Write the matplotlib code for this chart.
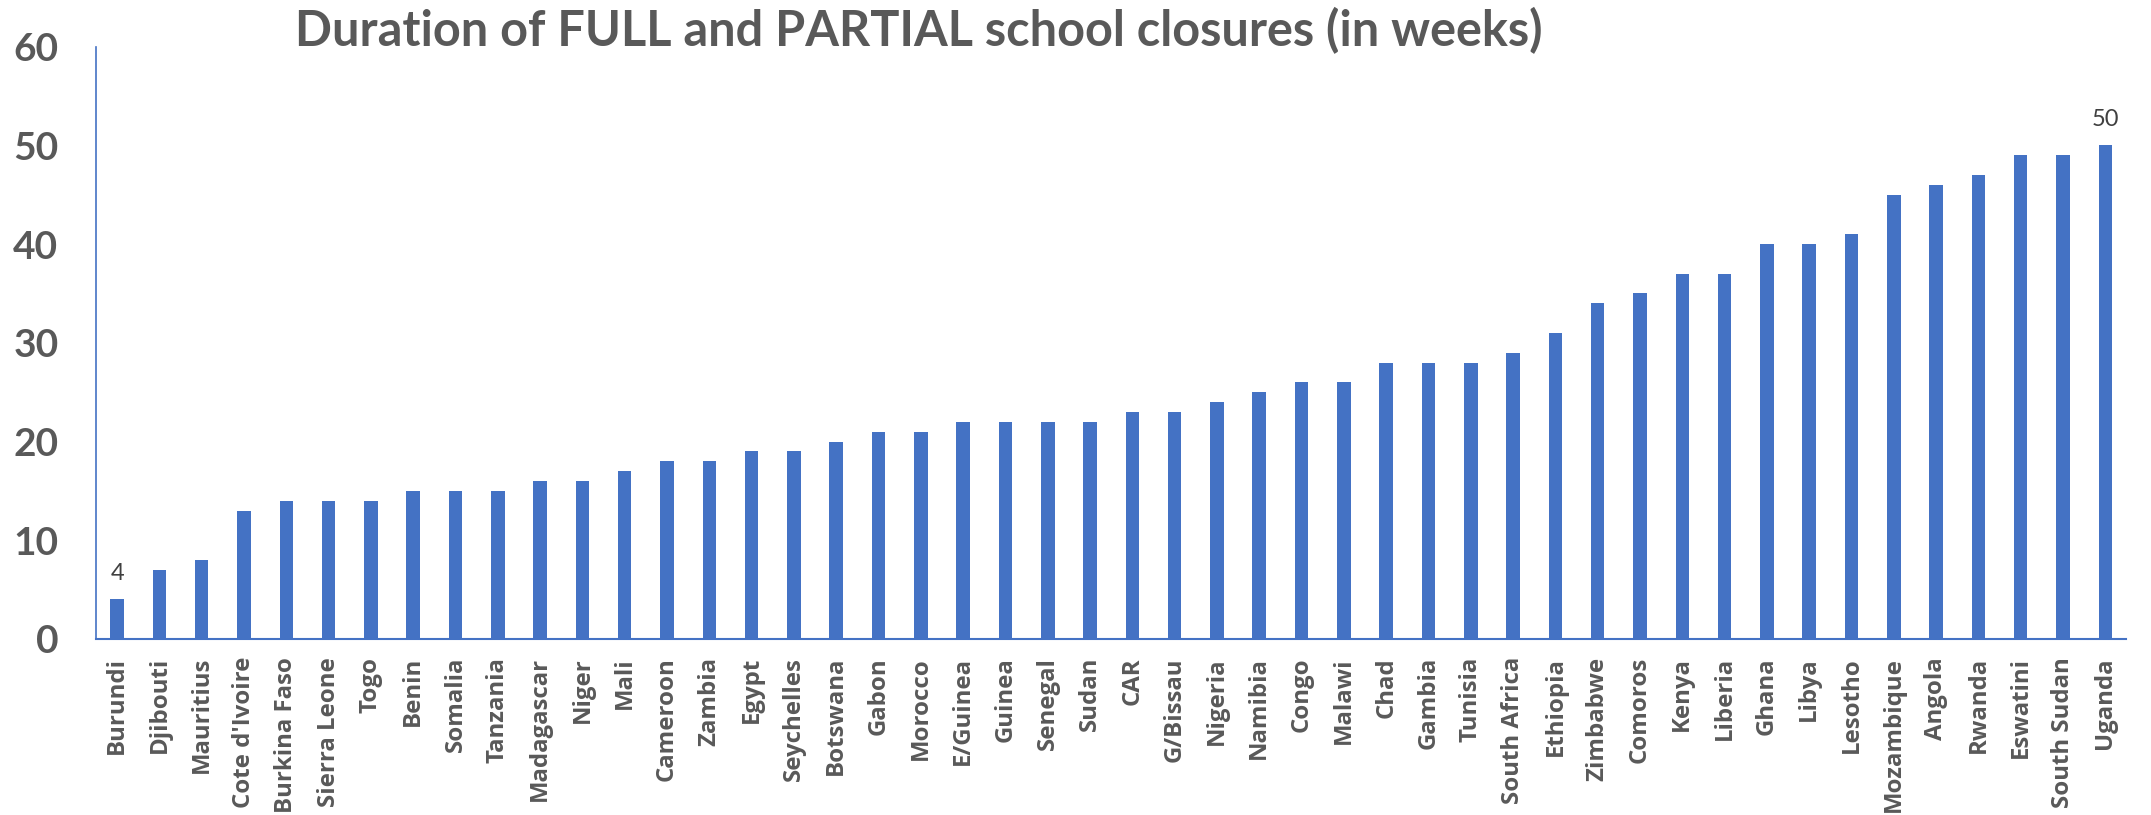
import matplotlib
matplotlib.use("Agg")
import matplotlib.pyplot as plt
import numpy as np

# Datos del gráfico
paises = ["Burundi", "Djibouti", "Mauritius", "Cote d'Ivoire", "Burkina Faso",
          "Sierra Leone", "Togo", "Benin", "Somalia", "Tanzania", "Madagascar",
          "Niger", "Mali", "Cameroon", "Zambia", "Egypt", "Seychelles", "Botswana",
          "Gabon", "Morocco", "E/Guinea", "Guinea", "Senegal", "Sudan", "CAR",
          "G/Bissau", "Nigeria", "Namibia", "Congo", "Malawi", "Chad", "Gambia",
          "Tunisia", "South Africa", "Ethiopia", "Zimbabwe", "Comoros", "Kenya",
          "Liberia", "Ghana", "Libya", "Lesotho", "Mozambique", "Angola", "Rwanda",
          "Eswatini", "South Sudan", "Uganda"]
semanas = [4, 7, 8, 13, 14, 14, 14, 15, 15, 15, 16, 16, 17, 18, 18, 19, 19, 20,
           21, 21, 22, 22, 22, 22, 23, 23, 24, 25, 26, 26, 28, 28, 28, 29, 31, 34,
           35, 37, 37, 40, 40, 41, 45, 46, 47, 49, 49, 50]
yticks = [0, 10, 20, 30, 40, 50, 60]
titulo = "Duration of FULL and PARTIAL school closures (in weeks)"

azul = "#4472C4"
gris = "#595959"
plt.rcParams['font.family'] = ['Lato', 'DejaVu Sans']

fig = plt.figure(figsize=(21.51, 8.15), dpi=100)
ax = fig.add_axes([0.0446, 0.2160, 0.9440, 0.7268])

x = np.arange(len(paises))
ax.bar(x, semanas, width=0.32, color=azul)

# Etiquetas solo en el primer y último valor
for i in [0, len(semanas) - 1]:
    ax.annotate(str(semanas[i]), (x[i], semanas[i]), xytext=(0, 11),
                textcoords="offset points", ha="center", va="bottom",
                fontsize=17, color="#404040")

ax.set_xlim(-0.5, len(paises) - 0.5)
ax.set_ylim(0, 60)
ax.set_yticks(yticks)
ax.set_yticklabels([str(v) for v in yticks], fontsize=28, fontweight="bold", color=gris)
ax.set_xticks(x)
ax.set_xticklabels(paises, rotation=90, fontsize=17.3, fontweight="bold", color=gris,
                   family=["Open Sans", "DejaVu Sans"])
ax.tick_params(axis="both", length=0)
ax.tick_params(axis="y", pad=27)
ax.tick_params(axis="x", pad=13)

for lado in ["top", "right"]:
    ax.spines[lado].set_visible(False)
ax.spines["left"].set_color(azul)
ax.spines["bottom"].set_color(azul)
ax.spines["left"].set_linewidth(1.2)
ax.spines["bottom"].set_linewidth(1.5)

fig.text(0.427, 0.963, titulo, ha="center", va="center", fontsize=35,
         fontweight="bold", color=gris)

fig.savefig("out.png", dpi=100)
